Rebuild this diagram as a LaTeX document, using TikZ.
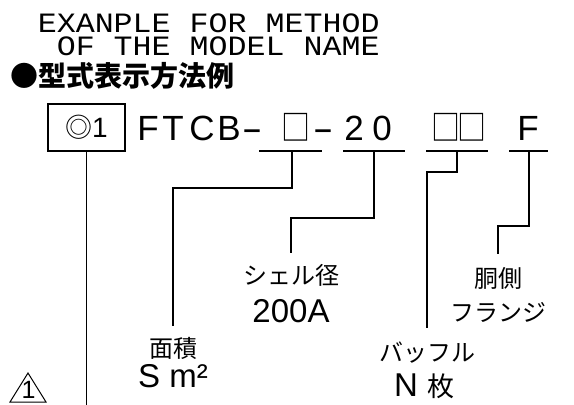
\documentclass[tikz,border=0pt]{standalone}
\usepackage{fontspec}
\newfontfamily\cadfont{Liberation Sans}
\newfontfamily\cadmono[FakeStretch=1.13]{Liberation Mono}
\newfontfamily\jpfont{Noto Sans CJK JP}
\usetikzlibrary{positioning,calc}
\newcommand{\boxch}{{\jpfont\fontsize{29}{32}\selectfont\scalebox{1}[1.2]{□}}}
\newcommand{\dashch}{\scalebox{1.8}[1]{-}}

\begin{document}
\begin{tikzpicture}[x=1pt,y=-1pt,line width=1.6pt,
    modelchar/.style={anchor=base,inner sep=0pt,font=\cadfont\fontsize{35}{40}\selectfont},
    jplabel/.style={anchor=base,inner sep=0pt,font=\jpfont\fontsize{24}{28}\selectfont},
    latlabel/.style={anchor=base,inner sep=0pt,font=\cadfont\fontsize{33}{38}\selectfont}]
    \useasboundingbox (0,0) rectangle (574,405);

    % Title
    \node[anchor=north west,inner sep=0pt,align=left,font=\cadmono\fontsize{28}{23}\selectfont] (title) at (37,13)
        {EXANPLE FOR METHOD\\\ OF THE MODEL NAME};
    \node[anchor=base west,inner sep=0pt,font=\jpfont\bfseries\fontsize{28}{32}\selectfont] (head) at (10,86) {●型式表示方法例};

    % Model code
    \node[draw,minimum width=77pt,minimum height=47pt,inner sep=0pt] (code) at (86.5,127.5)
        {{\jpfont\fontsize{27}{30}\selectfont ◎}{\cadfont\fontsize{28}{30}\selectfont 1}};
    \foreach \ch/\x [count=\i] in {F/148,T/173,C/202,B/229,\dashch/252,\boxch/296,\dashch/323,2/354,0/382,\boxch/446,\boxch/472,F/528}
        \node[modelchar] (m\i) at (\x,140) {\ch};

    % Underlines
    \foreach \a/\b in {259/322,343/405,426/488,509/548}
        \draw (\a,151) -- (\b,151);
    \coordinate (u1) at (292,151);
    \coordinate (u2) at (374,151);
    \coordinate (u3) at (457,151);
    \coordinate (u4) at (529,151);
    \coordinate (bottom) at (87,405);

    % Labels
    \node[jplabel] (area) at (173,357) {面積};
    \node[latlabel] (areaunit) at (173,387) {S m²};
    \node[jplabel] (shell) at (291,284) {シェル径};
    \node[latlabel] (shellsize) at (291,322) {200A};
    \node[jplabel] (baffle) at (427,361) {バッフル};
    \node[latlabel] (bafflecount) at (424,396) {N {\jpfont\fontsize{27}{30}\selectfont 枚}};
    \node[jplabel] (flange) at (498,287) {胴側};
    \node[jplabel] (flangetype) at (498,321) {フランジ};

    % Leaders
    \draw (code.south) -- (code.south |- bottom);
    \draw (u1) -- ++(0,37) -| ([yshift=10pt]area.north);
    \draw (u2) -- ++(0,67) -| ([yshift=10pt]shell.north);
    \draw (u3) -- ++(0,21) -| ([yshift=13pt]baffle.north);
    \draw (u4) -- ++(0,75) -| ([yshift=12pt]flange.north);

    % Revision mark
    \draw[line width=1pt] (10,402) -- (28,373) -- (46,402) -- cycle;
    \node[inner sep=0pt,anchor=base,font=\cadfont\fontsize{25}{28}\selectfont] (rev) at (28.5,398) {1};
\end{tikzpicture}
\end{document}
